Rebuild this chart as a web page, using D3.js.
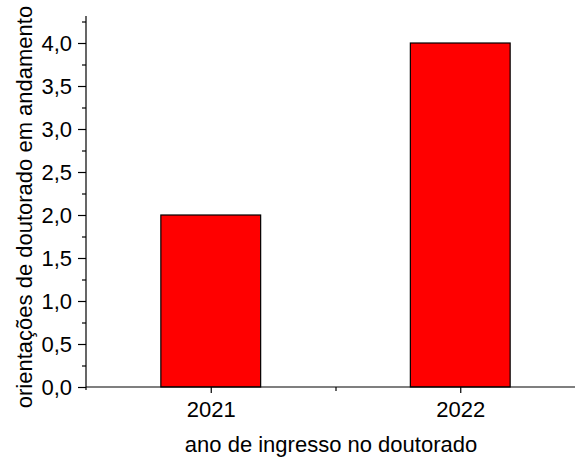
<!DOCTYPE html>
<html>
<head>
<meta charset="utf-8">
<script src="https://cdn.jsdelivr.net/npm/d3@7"></script>
<style>
  html, body { margin: 0; padding: 0; background: #fff; }
  svg { display: block; }
  text { font-family: Arial, "Liberation Sans", sans-serif; fill: #000; }
</style>
</head>
<body>
<svg id="chart" width="575" height="457"></svg>
<script>
// Data
const years = [2021, 2022];
const counts = [2, 4];
const yTicks = [0, 0.5, 1, 1.5, 2, 2.5, 3, 3.5, 4];
const yMinorTicks = [0.25, 0.75, 1.25, 1.75, 2.25, 2.75, 3.25, 3.75, 4.25];
const xMinorTicks = [2021.5];
const xTitle = "ano de ingresso no doutorado";
const yTitle = "orientações de doutorado em andamento";

const svg = d3.select("#chart");
const plotLeft = 86, plotRight = 585, plotTop = 16, plotBottom = 387;
const fontSize = "22px";

const x = d3.scaleLinear().domain([2020.5, 2022.5]).range([plotLeft, plotRight]);
const y = d3.scaleLinear().domain([0, 4.314]).range([plotBottom, plotTop]);
const barHalf = 0.2; // half bar width, in category units

const fmt = d => d3.format(".1f")(d).replace(".", ",");

// Bars
svg.append("g").selectAll("rect")
  .data(years.map((yr, i) => ({ yr, v: counts[i] })))
  .join("rect")
  .attr("x", d => x(d.yr - barHalf))
  .attr("width", d => x(d.yr + barHalf) - x(d.yr - barHalf))
  .attr("y", d => y(d.v))
  .attr("height", d => y(0) - y(d.v))
  .attr("fill", "#ff0000")
  .attr("stroke", "#000")
  .attr("stroke-width", 1.2);

// Y axis
const yAxis = svg.append("g").attr("transform", `translate(${plotLeft},0)`);
yAxis.call(d3.axisLeft(y).tickValues(yTicks).tickFormat(fmt).tickSize(8).tickPadding(6));
yAxis.append("g").call(d3.axisLeft(y).tickValues(yMinorTicks).tickFormat("").tickSize(4))
  .select(".domain").remove();
yAxis.select(".domain").attr("d", `M0,${plotTop}V${plotBottom + 3}`);

// X axis
const xAxis = svg.append("g").attr("transform", `translate(0,${plotBottom})`);
xAxis.call(d3.axisBottom(x).tickValues(years).tickFormat(d3.format("d")).tickSize(6).tickPadding(8));
xAxis.append("g").call(d3.axisBottom(x).tickValues(xMinorTicks).tickFormat("").tickSize(4))
  .select(".domain").remove();
xAxis.select(".domain").attr("d", `M${plotLeft},0H${plotRight}`);

svg.selectAll(".tick text").style("font-size", fontSize).style("font-family", "Arial, 'Liberation Sans', sans-serif");
svg.selectAll(".domain, .tick line").attr("stroke", "#000").attr("stroke-width", 1.2);

// Axis titles
svg.append("text")
  .attr("x", 331)
  .attr("y", 452)
  .attr("text-anchor", "middle")
  .style("font-size", fontSize)
  .text(xTitle);

svg.append("text")
  .attr("transform", `translate(32,207) rotate(-90)`)
  .attr("text-anchor", "middle")
  .style("font-size", fontSize)
  .text(yTitle);
</script>
</body>
</html>
